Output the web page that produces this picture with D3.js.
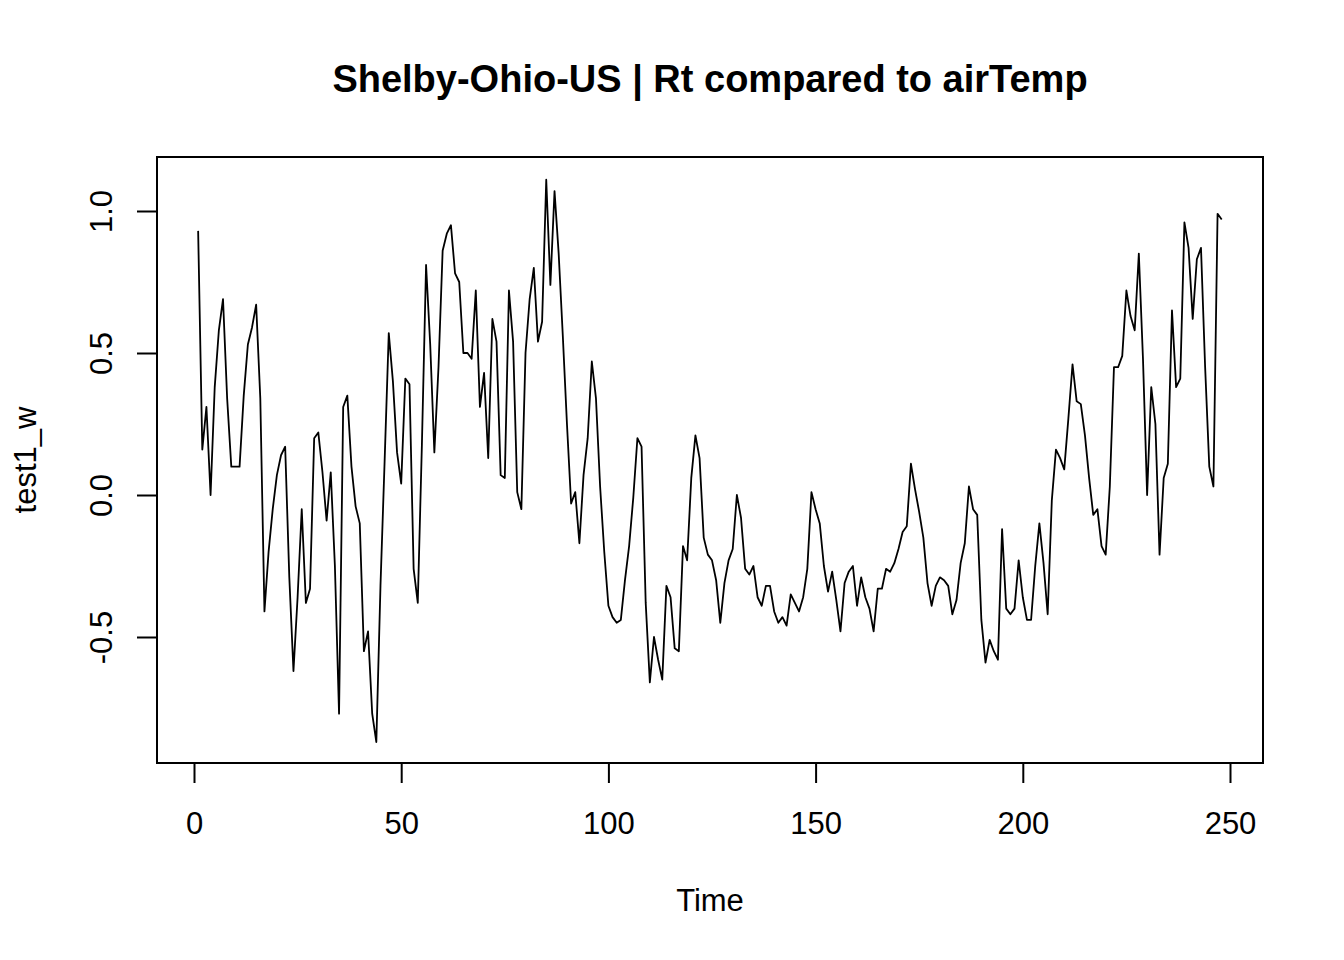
<!DOCTYPE html>
<html>
<head>
<meta charset="utf-8">
<script src="https://cdn.jsdelivr.net/npm/d3@7/dist/d3.min.js"></script>
<style>
  html, body { margin: 0; padding: 0; background: #fff; }
  svg { display: block; font-family: "Liberation Sans", Arial, sans-serif; }
</style>
</head>
<body>
<svg id="chart" width="1344" height="960"></svg>
<script>
const titleText = "Shelby-Ohio-US | Rt compared to airTemp";
const xLabel = "Time";
const yLabel = "test1_w";
const xTicks = [0, 50, 100, 150, 200, 250];
const yTicks = [-0.5, 0.0, 0.5, 1.0];
const yTickLabels = ["-0.5", "0.0", "0.5", "1.0"];
const values = [
  0.93, 0.16, 0.31, 0.00, 0.38, 0.58, 0.69, 0.34, 0.10, 0.10,
  0.10, 0.35, 0.53, 0.59, 0.67, 0.34, -0.41, -0.20, -0.05, 0.07,
  0.14, 0.17, -0.29, -0.62, -0.36, -0.05, -0.38, -0.33, 0.20, 0.22,
  0.08, -0.09, 0.08, -0.25, -0.77, 0.31, 0.35, 0.10, -0.04, -0.10,
  -0.55, -0.48, -0.77, -0.87, -0.32, 0.12, 0.57, 0.40, 0.15, 0.04,
  0.41, 0.39, -0.26, -0.38, 0.18, 0.81, 0.53, 0.15, 0.45, 0.86,
  0.92, 0.95, 0.78, 0.75, 0.50, 0.50, 0.48, 0.72, 0.31, 0.43,
  0.13, 0.62, 0.54, 0.07, 0.06, 0.72, 0.54, 0.01, -0.05, 0.50,
  0.69, 0.80, 0.54, 0.61, 1.11, 0.74, 1.07, 0.85, 0.56, 0.25,
  -0.03, 0.01, -0.17, 0.07, 0.20, 0.47, 0.34, 0.03, -0.20, -0.39,
  -0.43, -0.45, -0.44, -0.30, -0.18, -0.01, 0.20, 0.17, -0.38, -0.66,
  -0.50, -0.58, -0.65, -0.32, -0.36, -0.54, -0.55, -0.18, -0.23, 0.06,
  0.21, 0.13, -0.15, -0.21, -0.23, -0.30, -0.45, -0.31, -0.23, -0.19,
  0.00, -0.08, -0.26, -0.28, -0.25, -0.36, -0.39, -0.32, -0.32, -0.41,
  -0.45, -0.43, -0.46, -0.35, -0.38, -0.41, -0.36, -0.26, 0.01, -0.05,
  -0.10, -0.25, -0.34, -0.27, -0.37, -0.48, -0.31, -0.27, -0.25, -0.39,
  -0.29, -0.36, -0.40, -0.48, -0.33, -0.33, -0.26, -0.27, -0.24, -0.19,
  -0.13, -0.11, 0.11, 0.02, -0.06, -0.15, -0.31, -0.39, -0.32, -0.29,
  -0.30, -0.32, -0.42, -0.37, -0.24, -0.17, 0.03, -0.05, -0.07, -0.44,
  -0.59, -0.51, -0.55, -0.58, -0.12, -0.40, -0.42, -0.40, -0.23, -0.36,
  -0.44, -0.44, -0.25, -0.10, -0.24, -0.42, -0.02, 0.16, 0.13, 0.09,
  0.27, 0.46, 0.33, 0.32, 0.21, 0.06, -0.07, -0.05, -0.18, -0.21,
  0.03, 0.45, 0.45, 0.49, 0.72, 0.63, 0.58, 0.85, 0.48, 0.00,
  0.38, 0.25, -0.21, 0.06, 0.11, 0.65, 0.38, 0.41, 0.96, 0.87,
  0.62, 0.83, 0.87, 0.45, 0.10, 0.03, 0.99, 0.97
];
const times = values.map((v, i) => i + 1);

const svg = d3.select("#chart");
const box = { left: 157, right: 1263, top: 157, bottom: 763 };

const x = d3.scaleLinear().domain([0, 250]).range([194, 1230]);
const y = d3.scaleLinear().domain([0, 1]).range([495, 211]);

// data line
const line = d3.line().x((d, i) => x(times[i])).y(d => y(d));
svg.append("path")
  .datum(values)
  .attr("d", line)
  .attr("fill", "none")
  .attr("stroke", "#000")
  .attr("stroke-width", 1.8)
  .attr("stroke-linejoin", "round");

// box
svg.append("rect")
  .attr("x", box.left).attr("y", box.top)
  .attr("width", box.right - box.left).attr("height", box.bottom - box.top)
  .attr("fill", "none").attr("stroke", "#000").attr("stroke-width", 2);

// x axis
const xAxis = d3.axisBottom(x).tickValues(xTicks).tickSize(20).tickSizeOuter(0).tickPadding(20);
const gx = svg.append("g").attr("transform", `translate(0,${box.bottom})`).call(xAxis);
gx.select(".domain").attr("d", `M${x(0)},0H${x(250)}`).attr("stroke-width", 2);
gx.selectAll(".tick line").attr("stroke-width", 2);
gx.selectAll(".tick text")
  .attr("font-size", 31).attr("fill", "#000")
  .attr("font-family", "Liberation Sans, Arial, sans-serif")
  .attr("dy", null).attr("y", 71);

// y axis
const yAxis = d3.axisLeft(y).tickValues(yTicks).tickSize(20).tickSizeOuter(0)
  .tickFormat((d, i) => yTickLabels[i]);
const gy = svg.append("g").attr("transform", `translate(${box.left},0)`).call(yAxis);
gy.select(".domain").attr("d", `M0,${y(-0.5)}V${y(1)}`).attr("stroke-width", 2);
gy.selectAll(".tick line").attr("stroke-width", 2);
gy.selectAll(".tick text")
  .attr("font-size", 31).attr("fill", "#000")
  .attr("font-family", "Liberation Sans, Arial, sans-serif")
  .attr("x", null).attr("dy", null)
  .attr("text-anchor", "middle")
  .attr("transform", "translate(-45,0) rotate(-90)");

// title
svg.append("text")
  .attr("x", (box.left + box.right) / 2).attr("y", 92)
  .attr("text-anchor", "middle")
  .attr("font-size", 38).attr("font-weight", "bold")
  .text(titleText);

// x label
svg.append("text")
  .attr("x", (box.left + box.right) / 2).attr("y", 911)
  .attr("text-anchor", "middle")
  .attr("font-size", 31)
  .text(xLabel);

// y label
svg.append("text")
  .attr("transform", `translate(36,${(box.top + box.bottom) / 2}) rotate(-90)`)
  .attr("text-anchor", "middle")
  .attr("font-size", 31)
  .text(yLabel);
</script>
</body>
</html>
